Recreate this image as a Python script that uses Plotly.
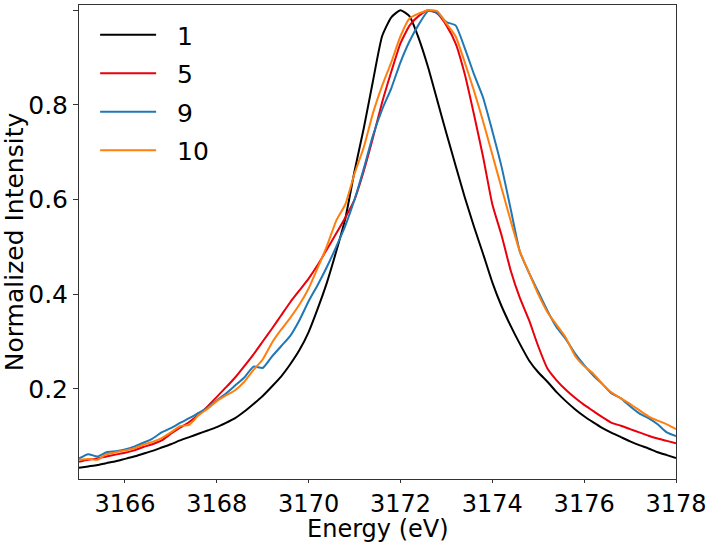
import plotly.graph_objects as go

energy = [round(3165.0 + 0.2 * i, 1) for i in range(66)]

s1 = [0.033, 0.036, 0.039, 0.043, 0.047, 0.052, 0.057, 0.063, 0.069, 0.076,
      0.083, 0.091, 0.098, 0.105, 0.112, 0.119, 0.128, 0.138, 0.152, 0.168,
      0.185, 0.205, 0.226, 0.252, 0.282, 0.320, 0.370, 0.425, 0.490, 0.560,
      0.660, 0.750, 0.850, 0.945, 0.985, 1.000, 0.987, 0.940, 0.880, 0.810,
      0.740, 0.672, 0.605, 0.543, 0.485, 0.425, 0.375, 0.333, 0.295, 0.260,
      0.235, 0.215, 0.193, 0.174, 0.157, 0.142, 0.129, 0.117, 0.107, 0.098,
      0.089, 0.081, 0.074, 0.066, 0.060, 0.054]

s5 = [0.046, 0.050, 0.053, 0.057, 0.061, 0.065, 0.070, 0.077, 0.083, 0.091,
      0.105, 0.118, 0.130, 0.145, 0.163, 0.183, 0.203, 0.224, 0.248, 0.273,
      0.300, 0.327, 0.355, 0.383, 0.408, 0.433, 0.462, 0.495, 0.528, 0.562,
      0.600, 0.660, 0.730, 0.805, 0.870, 0.930, 0.968, 0.988, 1.000, 0.993,
      0.968, 0.930, 0.865, 0.780, 0.690, 0.590, 0.525, 0.450, 0.392, 0.345,
      0.290, 0.243, 0.218, 0.198, 0.181, 0.166, 0.153, 0.140, 0.128, 0.122,
      0.115, 0.108, 0.101, 0.095, 0.090, 0.085]

s9 = [0.053, 0.062, 0.057, 0.066, 0.068, 0.072, 0.078, 0.086, 0.095, 0.108,
      0.117, 0.128, 0.138, 0.149, 0.160, 0.176, 0.190, 0.207, 0.224, 0.247,
      0.244, 0.268, 0.290, 0.312, 0.345, 0.385, 0.420, 0.458, 0.500, 0.545,
      0.600, 0.665, 0.735, 0.790, 0.835, 0.890, 0.935, 0.970, 0.998, 0.995,
      0.975, 0.968, 0.920, 0.865, 0.815, 0.745, 0.670, 0.580, 0.490, 0.445,
      0.405, 0.365, 0.330, 0.305, 0.275, 0.250, 0.228, 0.210, 0.190, 0.180,
      0.163, 0.148, 0.138, 0.125, 0.108, 0.100]

s10 = [0.050, 0.052, 0.050, 0.062, 0.066, 0.070, 0.074, 0.082, 0.088, 0.096,
       0.108, 0.121, 0.124, 0.144, 0.158, 0.174, 0.186, 0.197, 0.215, 0.240,
       0.262, 0.297, 0.325, 0.350, 0.378, 0.412, 0.456, 0.502, 0.555, 0.590,
       0.655, 0.710, 0.782, 0.840, 0.890, 0.945, 0.983, 0.993, 1.000, 0.998,
       0.972, 0.945, 0.890, 0.830, 0.765, 0.695, 0.625, 0.555, 0.490, 0.445,
       0.400, 0.362, 0.335, 0.308, 0.270, 0.248, 0.232, 0.210, 0.192, 0.180,
       0.168, 0.155, 0.142, 0.133, 0.125, 0.115]

series = [("1", s1, "#000000"), ("5", s5, "#e8000b"),
          ("9", s9, "#1f77b4"), ("10", s10, "#ff7f0e")]

x_ticks = [3166, 3168, 3170, 3172, 3174, 3176, 3178]
y_ticks = [0.2, 0.4, 0.6, 0.8, 1.0]

fig = go.Figure()
for name, vals, color in series:
    fig.add_trace(go.Scatter(x=energy, y=vals, mode="lines",
                             name="\u00a0\u00a0" + name,
                             legendgroup=name,
                             line=dict(color=color, width=2,
                                       shape="spline", smoothing=0.5)))

font = "DejaVu Sans"
fs = 25
fig.update_layout(
    width=708, height=542,
    margin=dict(l=79, r=32, t=5, b=63, autoexpand=False),
    paper_bgcolor="white", plot_bgcolor="white",
    font=dict(family=font, size=fs, color="black"),
    showlegend=True,
    legend=dict(x=0.027, y=0.985, xanchor="left", yanchor="top",
                bgcolor="rgba(0,0,0,0)", borderwidth=0,
                font=dict(family=font, size=fs),
                tracegroupgap=3, itemwidth=56),
    xaxis=dict(range=[3165, 3178], tickvals=x_ticks,
               ticktext=[str(t) for t in x_ticks],
               automargin=False,
               showline=True, mirror=True, linecolor="#333", linewidth=1,
               ticks="outside", ticklen=3, tickwidth=1, tickcolor="#333",
               showgrid=False, zeroline=False,
               tickfont=dict(size=24)),
    yaxis=dict(range=[0.0095, 1.011], tickvals=y_ticks,
               ticktext=["0.2", "0.4", "0.6", "0.8", "1.0"],
               automargin=False,
               showline=True, mirror=True, linecolor="#333", linewidth=1,
               ticks="outside", ticklen=5, tickwidth=1, tickcolor="#333",
               showgrid=False, zeroline=False,
               tickfont=dict(size=fs),
               title=dict(text="Normalized Intensity", font=dict(size=fs), standoff=4)),
    annotations=[dict(text="Energy (eV)", xref="paper", yref="paper",
                      x=0.5, y=-65 / 474, xanchor="center", yanchor="bottom",
                      showarrow=False, borderpad=0,
                      font=dict(family=font, size=24))],
)

fig.write_html("out.html")
